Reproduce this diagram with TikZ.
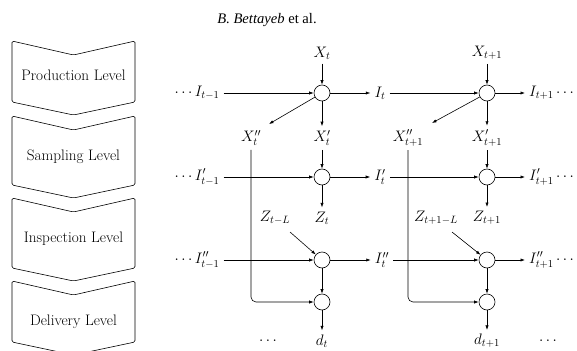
\RequirePackage{fix-cm}
\documentclass[tikz,border=0pt]{standalone}
\usepackage{fontspec}
\newfontfamily\timesfont{Liberation Serif}
\usetikzlibrary{arrows.meta,calc}
\begin{document}
\begin{tikzpicture}[x=1pt,y=-1pt,
  every node/.style={font=\fontsize{15.2}{18}\selectfont, inner sep=4pt},
  sum/.style={circle, draw, minimum size=16pt, inner sep=0pt, line width=0.6pt},
  arr/.style={-{Latex[length=4.5pt,width=3.2pt]}, line width=0.6pt},
  lvl/.style={draw, line width=0.6pt, rounded corners=1.5pt}]
\useasboundingbox (0,0) rectangle (577,350);
\clip (0,0) rectangle (577,350);

% header
\node[font={\timesfont\fontsize{14.6}{17}\selectfont}] (hdr) at (267,20) {\textit{B. Bettayeb} et al.};

% level chevrons
\newcommand\chev[2]{\draw[lvl] (12,#1) -- (73.5,#1+14) -- (135,#1) -- (135,#2) -- (73.5,#2+13) -- (12,#2) -- cycle;}
\chev{41}{102}
\chev{116}{185}
\chev{198}{268}
\chev{281}{342}
\node (lv1) at (73.5,75) {Production Level};
\node (lv2) at (73.5,157) {Sampling Level};
\node (lv3) at (73.5,239) {Inspection Level};
\node (lv4) at (73.5,322) {Delivery Level};

% summing circles
\node[sum] (c11) at (322,93) {};
\node[sum] (c21) at (487,93) {};
\node[sum] (c12) at (322,177) {};
\node[sum] (c22) at (487,177) {};
\node[sum] (c13) at (322,260) {};
\node[sum] (c23) at (487,260) {};
\node[sum] (c14) at (322,302) {};
\node[sum] (c24) at (487,302) {};

% labels
\node (Xt)  at (322,53) {$X_t$};
\node (Xt1) at (487,53) {$X_{t+1}$};
\node (Im1) at (197,93) {$\cdots I_{t-1}$};
\node (It)  at (380,93) {$I_t$};
\node[anchor=west] (It1) at (525,93) {$I_{t+1}\cdots$};

\node (Xppt)  at (251,138) {$X''_t$};
\node (Xpt)   at (322,138) {$X'_t$};
\node (Xppt1) at (408,138) {$X''_{t+1}$};
\node (Xpt1)  at (487,138) {$X'_{t+1}$};

\node (Ipm1) at (197,177) {$\cdots I'_{t-1}$};
\node (Ipt)  at (380,177) {$I'_t$};
\node[anchor=west] (Ipt1) at (525,177) {$I'_{t+1}\cdots$};

\node (ZtL)  at (275,218) {$Z_{t-L}$};
\node (Zt)   at (322,218) {$Z_t$};
\node (Zt1L) at (436,218) {$Z_{t+1-L}$};
\node (Zt1)  at (487,218) {$Z_{t+1}$};

\node (Ippm1) at (197,260) {$\cdots I''_{t-1}$};
\node (Ippt)  at (382,260) {$I''_t$};
\node[anchor=west] (Ippt1) at (525,260) {$I''_{t+1}\cdots$};

\node (dots1) at (268,341) {$\cdots$};
\node (dt)    at (322,341) {$d_t$};
\node (dt1)   at (487,341) {$d_{t+1}$};
\node (dots2) at (548,341) {$\cdots$};

% free ends
\coordinate (dg1) at (269,124);
\coordinate (dg2) at (432,123);
\coordinate (zs1) at (290,232);
\coordinate (zs2) at (452,232);

% production row
\draw[arr] (Xt) -- (c11);
\draw[arr] (Xt1) -- (c21);
\draw[arr] (Im1) -- (c11);
\draw[arr] (c11) -- (It);
\draw[arr] (It) -- (c21);
\draw[arr] (c21) -- (It1);
\draw[arr] (c11) -- (dg1);
\draw[arr] (c21) -- (dg2);
\draw[arr] (c11) -- (Xpt);
\draw[arr] (c21) -- (Xpt1);

% sampling row
\draw[arr] (Xpt) -- (c12);
\draw[arr] (Xpt1) -- (c22);
\draw[arr] (Ipm1) -- (c12);
\draw[arr] (c12) -- (Ipt);
\draw[arr] (Ipt) -- (c22);
\draw[arr] (c22) -- (Ipt1);
\draw[arr] (c12) -- (Zt);
\draw[arr] (c22) -- (Zt1);

% inspection row
\draw[arr] (zs1) -- (c13);
\draw[arr] (zs2) -- (c23);
\draw[arr] (Ippm1) -- (c13);
\draw[arr] (c13) -- (Ippt);
\draw[arr] (Ippt) -- (c23);
\draw[arr] (c23) -- (Ippt1);

% delivery row
\draw[arr] (c13) -- (c14);
\draw[arr] (c23) -- (c24);
\draw[arr, rounded corners=5pt] (Xppt.south) |- (c14);
\draw[arr, rounded corners=5pt] (Xppt1.south) |- (c24);
\draw[arr] (c14) -- (dt);
\draw[arr] (c24) -- (dt1);
\end{tikzpicture}
\end{document}
